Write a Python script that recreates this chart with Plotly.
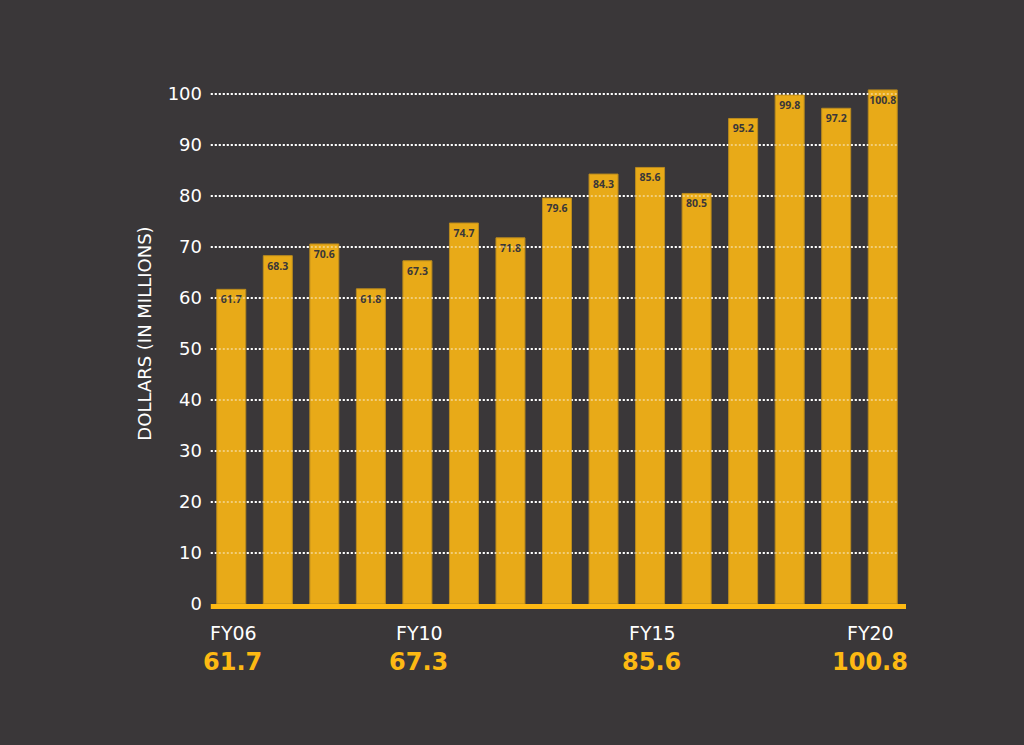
import plotly.graph_objects as go

# ---- data ----
years = ["FY06", "FY07", "FY08", "FY09", "FY10", "FY11", "FY12", "FY13",
         "FY14", "FY15", "FY16", "FY17", "FY18", "FY19", "FY20"]
dollars = [61.7, 68.3, 70.6, 61.8, 67.3, 74.7, 71.8, 79.6,
           84.3, 85.6, 80.5, 95.2, 99.8, 97.2, 100.8]
highlight_years = ["FY06", "FY10", "FY15", "FY20"]
y_ticks = [0, 10, 20, 30, 40, 50, 60, 70, 80, 90, 100]

BG = "#3a3739"
BAR = "#e8aa18"
BAR_EDGE = "#b98a1e"
GOLD = "#fdb913"
FONT = "DejaVu Sans"

PLOT_H = 541

fig = go.Figure()
fig.add_trace(go.Bar(
    x=years, y=dollars,
    marker=dict(color=BAR, line=dict(color=BAR_EDGE, width=1)),
    text=[f"{v:.1f}" for v in dollars],
    texttemplate="%{text}",
    textposition="inside",
    insidetextanchor="end",
    textangle=0,
    textfont=dict(family="Open Sans", size=10.5, color=BG, weight="bold"),
    constraintext="none",
    hoverinfo="x+y",
))

shapes = []
for t in y_ticks[1:]:
    # gridline behind bars (white) and a translucent copy above bars
    shapes.append(dict(type="line", xref="paper", yref="y", x0=0.004, x1=0.9885,
                       y0=t, y1=t, layer="below",
                       line=dict(color="#ffffff", width=2, dash="2px,2px")))
    shapes.append(dict(type="line", xref="paper", yref="y", x0=0.004, x1=0.9885,
                       y0=t, y1=t, layer="above",
                       line=dict(color="rgba(255,255,255,0.42)", width=2, dash="2px,2px")))
# thick baseline just under the plot area
shapes.append(dict(type="rect", xref="paper", yref="paper", x0=0.004, x1=1.0,
                   y0=0, y1=-5 / PLOT_H, layer="above",
                   fillcolor=GOLD, line=dict(width=0)))

annotations = []
for yr in highlight_years:
    i = years.index(yr)
    shift = -12 if i == len(years) - 1 else 2
    annotations.append(dict(x=yr, xref="x", y=0, yref="paper", yanchor="middle",
                            xanchor="center", yshift=-29, xshift=shift, showarrow=False,
                            text=yr, font=dict(family=FONT, size=19, color="#ffffff")))
    annotations.append(dict(x=yr, xref="x", y=0, yref="paper", yanchor="middle",
                            xanchor="center", yshift=-58, xshift=shift - 1, showarrow=False,
                            text=f"{dollars[i]:.1f}",
                            font=dict(family=FONT, size=24, color=GOLD, weight="bold")))

fig.update_layout(
    width=1024, height=745,
    margin=dict(l=208, r=118, t=63, b=141),
    paper_bgcolor=BG, plot_bgcolor=BG,
    bargap=0.377,
    showlegend=False,
    shapes=shapes,
    annotations=annotations,
    xaxis=dict(type="category", showticklabels=False, showgrid=False,
               zeroline=False, showline=False, range=[-0.5, 14.5], fixedrange=True),
    yaxis=dict(range=[0, PLOT_H / 5.1], tickvals=y_ticks, showgrid=False, zeroline=False,
               showline=False, ticks="", ticklabelstandoff=5,
               tickfont=dict(family=FONT, size=18, color="#ffffff"),
               title=dict(text="DOLLARS (IN MILLIONS)", standoff=11,
                          font=dict(family=FONT, size=18, color="#ffffff")),
               fixedrange=True),
)

fig.write_html(
    "out.html",
    config={"displayModeBar": False},
    post_script="document.body.style.margin='0';document.body.style.background='#3a3739';",
)
